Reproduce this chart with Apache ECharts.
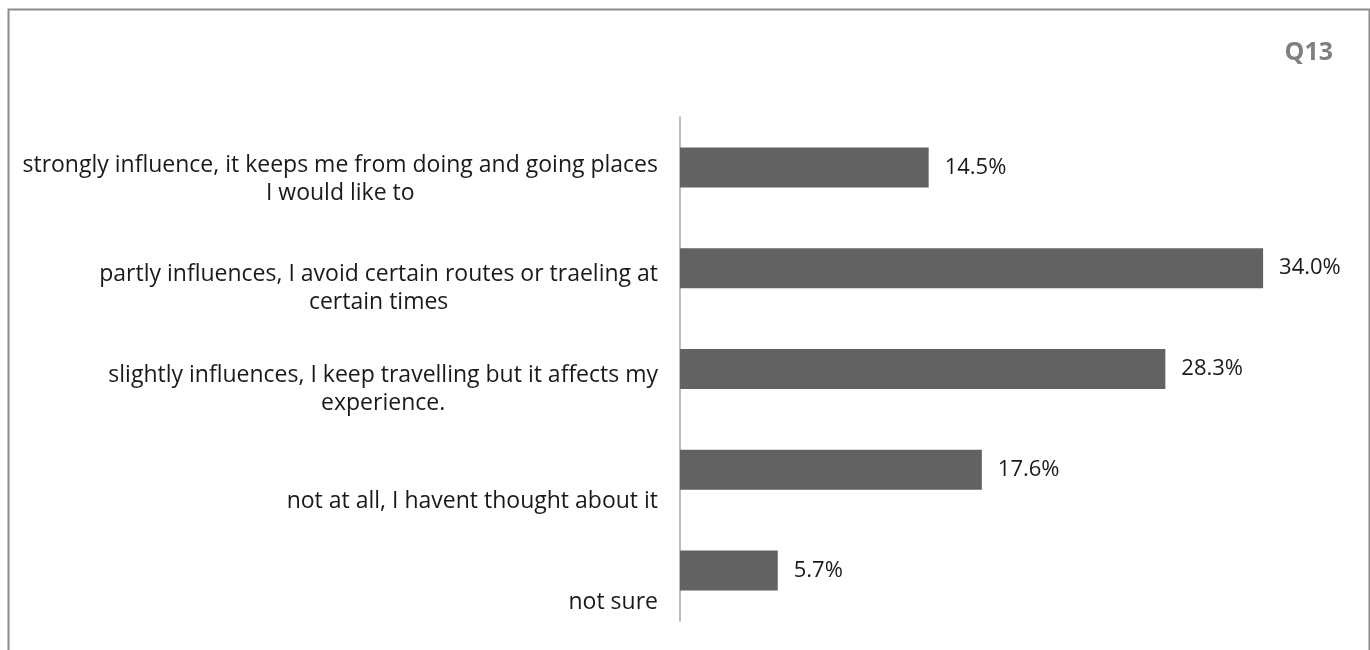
<!DOCTYPE html>
<html>
<head>
<meta charset="utf-8">
<script src="https://cdn.jsdelivr.net/npm/echarts@6/dist/echarts.min.js"></script>
<style>
  html, body { margin: 0; padding: 0; background: #ffffff; }
  #chart { width: 1370px; height: 650px; }
</style>
</head>
<body>
<div id="chart"></div>
<script>
// Survey answers (wrapped as shown on the axis) and their shares in percent
const categories = [
  'strongly influence, it keeps me from doing and going places\nI would like to',
  'partly influences, I avoid certain routes or traeling at\ncertain times',
  'slightly influences, I keep travelling but it affects my\nexperience.',
  'not at all, I havent thought about it',
  'not sure'
];
const shares = [14.5, 34.0, 28.3, 17.6, 5.7];
const questionTitle = 'Q13';

const FONT = '"Open Sans", "Noto Sans", sans-serif';

// Category labels sit a little below their bars; one-line labels drop further
const yData = categories.map(function (c, i) {
  const lines = c.split('\n').length;
  const pad = lines === 1 ? 64 : (i === 0 ? 24 : 40);
  return { value: c, textStyle: { padding: [pad, 0, 0, 0] } };
});

const chart = echarts.init(document.getElementById('chart'), null, { renderer: 'canvas' });
chart.setOption({
  animation: false,
  backgroundColor: '#ffffff',
  title: {
    text: questionTitle,
    right: 32,
    top: 35,
    textStyle: { fontFamily: FONT, fontSize: 25, fontWeight: 'bold', color: '#808080' }
  },
  graphic: [{
    type: 'rect',
    left: 6,
    top: 7,
    shape: { width: 1361, height: 720 },
    style: { fill: 'none', stroke: '#8c8c8c', lineWidth: 2 },
    silent: true
  }],
  grid: { left: 680, top: 117, height: 504, right: 4 },
  xAxis: {
    type: 'value',
    min: 0,
    max: 40,
    show: false
  },
  yAxis: {
    type: 'category',
    inverse: true,
    data: yData,
    axisLine: { show: true, lineStyle: { color: '#a6a6a6', width: 1.5 } },
    axisTick: { show: false },
    axisLabel: {
      margin: 22,
      fontFamily: FONT,
      fontSize: 23,
      lineHeight: 28,
      color: '#1a1a1a',
      verticalAlign: 'middle',
      formatter: function (v) {
        return v.split('\n').map(function (l) { return '{t|' + l + '}'; }).join('\n');
      },
      rich: {
        t: { align: 'center', fontFamily: FONT, fontSize: 23, lineHeight: 28, color: '#1a1a1a' }
      }
    }
  },
  series: [{
    type: 'bar',
    data: shares,
    barWidth: 40,
    itemStyle: { color: '#626262' },
    label: {
      show: true,
      position: 'right',
      distance: 16,
      fontFamily: FONT,
      fontSize: 22,
      color: '#1a1a1a',
      formatter: function (p) { return p.value.toFixed(1) + '%'; }
    }
  }]
});
</script>
</body>
</html>
